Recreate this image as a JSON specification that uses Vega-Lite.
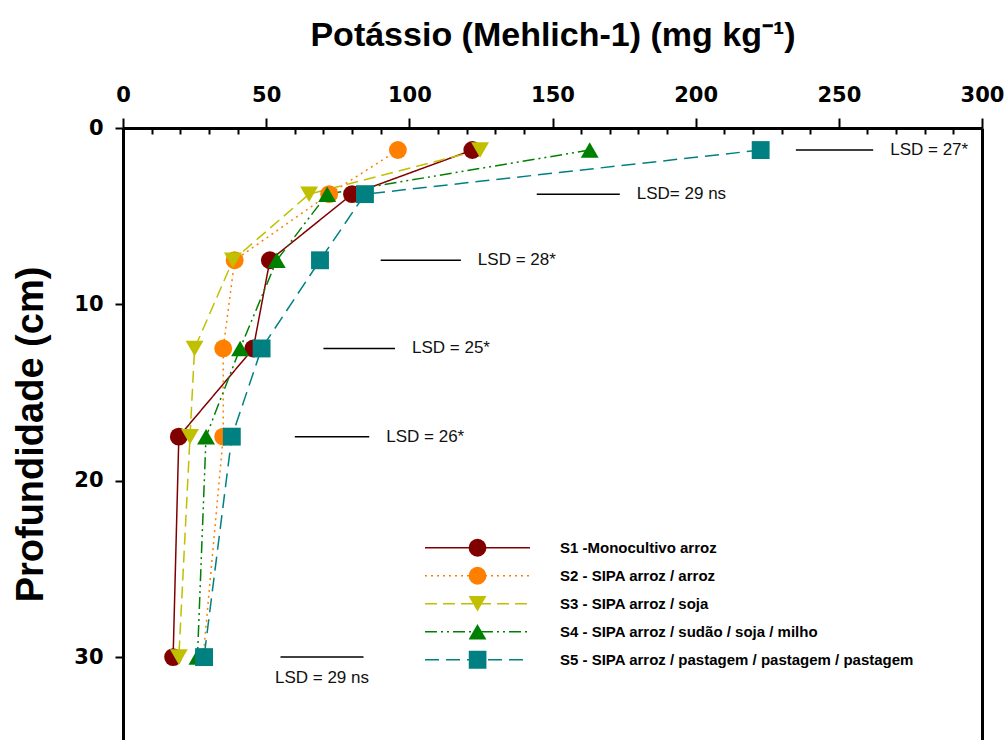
{
  "$schema": "https://vega.github.io/schema/vega-lite/v6.json",
  "width": 859,
  "height": 612,
  "autosize": "none",
  "padding": {"left": 123, "top": 128, "right": 26, "bottom": 0},
  "background": "white",
  "config": {"view": {"stroke": null}, "font": "Liberation Sans"},
  "datasets": {
    "perfis": [
      {"sistema": "S1 -Monocultivo arroz", "codigo": "S1", "prof": 1.25, "k": 122},
      {"sistema": "S1 -Monocultivo arroz", "codigo": "S1", "prof": 3.75, "k": 80},
      {"sistema": "S1 -Monocultivo arroz", "codigo": "S1", "prof": 7.5, "k": 51.3},
      {"sistema": "S1 -Monocultivo arroz", "codigo": "S1", "prof": 12.5, "k": 45.5},
      {"sistema": "S1 -Monocultivo arroz", "codigo": "S1", "prof": 17.5, "k": 19.5},
      {"sistema": "S1 -Monocultivo arroz", "codigo": "S1", "prof": 30, "k": 17.5},
      {"sistema": "S2 - SIPA arroz / arroz", "codigo": "S2", "prof": 1.25, "k": 96},
      {"sistema": "S2 - SIPA arroz / arroz", "codigo": "S2", "prof": 3.75, "k": 72},
      {"sistema": "S2 - SIPA arroz / arroz", "codigo": "S2", "prof": 7.5, "k": 39},
      {"sistema": "S2 - SIPA arroz / arroz", "codigo": "S2", "prof": 12.5, "k": 35},
      {"sistema": "S2 - SIPA arroz / arroz", "codigo": "S2", "prof": 17.5, "k": 35},
      {"sistema": "S2 - SIPA arroz / arroz", "codigo": "S2", "prof": 30, "k": 28},
      {"sistema": "S3 - SIPA arroz / soja", "codigo": "S3", "prof": 1.25, "k": 124.7},
      {"sistema": "S3 - SIPA arroz / soja", "codigo": "S3", "prof": 3.75, "k": 65},
      {"sistema": "S3 - SIPA arroz / soja", "codigo": "S3", "prof": 7.5, "k": 38.4},
      {"sistema": "S3 - SIPA arroz / soja", "codigo": "S3", "prof": 12.5, "k": 25},
      {"sistema": "S3 - SIPA arroz / soja", "codigo": "S3", "prof": 17.5, "k": 23.4},
      {"sistema": "S3 - SIPA arroz / soja", "codigo": "S3", "prof": 30, "k": 19.5},
      {"sistema": "S4 - SIPA arroz / sudão / soja / milho", "codigo": "S4", "prof": 1.25, "k": 163},
      {"sistema": "S4 - SIPA arroz / sudão / soja / milho", "codigo": "S4", "prof": 3.75, "k": 71.3},
      {"sistema": "S4 - SIPA arroz / sudão / soja / milho", "codigo": "S4", "prof": 7.5, "k": 53.7},
      {"sistema": "S4 - SIPA arroz / sudão / soja / milho", "codigo": "S4", "prof": 12.5, "k": 40.9},
      {"sistema": "S4 - SIPA arroz / sudão / soja / milho", "codigo": "S4", "prof": 17.5, "k": 29},
      {"sistema": "S4 - SIPA arroz / sudão / soja / milho", "codigo": "S4", "prof": 30, "k": 26},
      {"sistema": "S5 - SIPA arroz / pastagem / pastagem / pastagem", "codigo": "S5", "prof": 1.25, "k": 222.7},
      {"sistema": "S5 - SIPA arroz / pastagem / pastagem / pastagem", "codigo": "S5", "prof": 3.75, "k": 84.5},
      {"sistema": "S5 - SIPA arroz / pastagem / pastagem / pastagem", "codigo": "S5", "prof": 7.5, "k": 68.8},
      {"sistema": "S5 - SIPA arroz / pastagem / pastagem / pastagem", "codigo": "S5", "prof": 12.5, "k": 48.4},
      {"sistema": "S5 - SIPA arroz / pastagem / pastagem / pastagem", "codigo": "S5", "prof": 17.5, "k": 38},
      {"sistema": "S5 - SIPA arroz / pastagem / pastagem / pastagem", "codigo": "S5", "prof": 30, "k": 28.3}
    ],
    "lsd": [
      {"prof": 1.25, "ini": 235, "fim": 262, "rotulo": "LSD = 27*"},
      {"prof": 3.75, "ini": 144.5, "fim": 173.5, "rotulo": "LSD= 29 ns"},
      {"prof": 7.5, "ini": 90, "fim": 118, "rotulo": "LSD = 28*"},
      {"prof": 12.5, "ini": 70, "fim": 95, "rotulo": "LSD = 25*"},
      {"prof": 17.5, "ini": 60, "fim": 86, "rotulo": "LSD = 26*"},
      {"prof": 30, "ini": 55, "fim": 84, "rotulo": "LSD = 29 ns"}
    ]
  },
  "layer": [
    {
      "data": {"name": "perfis"},
      "mark": {"type": "line", "strokeWidth": 1.5},
      "encoding": {
        "x": {
          "field": "k", "type": "quantitative",
          "scale": {"domain": [0, 300], "nice": false, "zero": false},
          "axis": {
            "orient": "top",
            "values": [0, 50, 100, 150, 200, 250, 300],
            "tickSize": 10, "tickWidth": 2, "tickColor": "black",
            "domainColor": "black", "domainWidth": 3,
            "grid": false,
            "labelFont": "DejaVu Sans", "labelFontWeight": "bold", "labelFontSize": 21, "labelColor": "black",
            "labelPadding": 13, "labelFlush": false, "labelOverlap": false, "labelBound": false,
            "title": "Potássio (Mehlich-1) (mg kg⁻¹)",
            "titleFont": "Liberation Sans", "titleFontSize": 34, "titleFontWeight": "bold", "titleColor": "black",
            "titlePadding": 32
          }
        },
        "y": {
          "field": "prof", "type": "quantitative",
          "scale": {"domain": [0, 34.7], "nice": false, "zero": false, "reverse": true},
          "axis": {
            "orient": "left",
            "values": [0, 10, 20, 30],
            "tickSize": 8, "tickWidth": 2, "tickColor": "black",
            "domainColor": "black", "domainWidth": 3,
            "grid": false,
            "labelFont": "DejaVu Sans", "labelFontWeight": "bold", "labelFontSize": 21, "labelColor": "black",
            "labelPadding": 12, "labelFlush": false, "labelOverlap": false,
            "title": "Profundidade (cm)",
            "titleFont": "Liberation Sans", "titleFontSize": 38, "titleFontWeight": "bold", "titleColor": "black",
            "titlePadding": 23
          }
        },
        "stroke": {
          "field": "sistema", "type": "nominal",
          "scale": {"range": ["#800000", "#FF8000", "#C0C000", "#008000", "#008080"]},
          "legend": {
            "orient": "none", "legendX": 301, "legendY": 406, "padding": 0, "title": null,
            "symbolType": "stroke", "symbolSize": 11025, "symbolStrokeWidth": 1.5,
            "clipHeight": 27.5, "rowPadding": 0, "labelOffset": 29,
            "labelFont": "Liberation Sans", "labelFontWeight": "bold", "labelFontSize": 15, "labelColor": "black",
            "labelLimit": 600, "zindex": 1
          }
        },
        "strokeDash": {
          "field": "sistema", "type": "nominal",
          "scale": {"range": [[1, 0], [2, 4], [12, 6], [12, 4, 2, 4, 2, 4], [14, 7]]},
          "legend": {
            "orient": "none", "legendX": 301, "legendY": 406, "padding": 0, "title": null,
            "symbolType": "stroke", "symbolSize": 11025, "symbolStrokeWidth": 1.5,
            "clipHeight": 27.5, "rowPadding": 0, "labelOffset": 29,
            "labelFont": "Liberation Sans", "labelFontWeight": "bold", "labelFontSize": 15, "labelColor": "black",
            "labelLimit": 600, "zindex": 1
          }
        },
        "order": {"field": "prof", "type": "quantitative"}
      }
    },
    {
      "data": {"name": "perfis"},
      "mark": {"type": "point", "filled": true, "size": 320, "opacity": 1, "strokeWidth": 0},
      "encoding": {
        "x": {"field": "k", "type": "quantitative", "axis": null},
        "y": {"field": "prof", "type": "quantitative", "axis": null},
        "fill": {
          "field": "codigo", "type": "nominal",
          "scale": {"range": ["#800000", "#FF8000", "#C0C000", "#008000", "#008080"]},
          "legend": {
            "orient": "none", "legendX": 345.5, "legendY": 406, "padding": 0, "title": null,
            "symbolSize": 320, "symbolStrokeWidth": 0, "symbolOpacity": 1,
            "clipHeight": 27.5, "rowPadding": 0, "labelExpr": "''", "labelFontSize": 10, "zindex": 2
          }
        },
        "shape": {
          "field": "codigo", "type": "nominal",
          "scale": {"range": ["circle", "circle", "triangle-down", "triangle-up", "square"]},
          "legend": {
            "orient": "none", "legendX": 345.5, "legendY": 406, "padding": 0, "title": null,
            "symbolSize": 320, "symbolStrokeWidth": 0, "symbolOpacity": 1,
            "clipHeight": 27.5, "rowPadding": 0, "labelExpr": "''", "labelFontSize": 10, "zindex": 2
          }
        }
      }
    },
    {
      "data": {"name": "lsd"},
      "mark": {"type": "rule", "stroke": "black", "strokeWidth": 1.5},
      "encoding": {
        "x": {
          "field": "ini", "type": "quantitative",
          "axis": {
            "orient": "top",
            "values": [10, 20, 30, 40, 60, 70, 80, 90, 110, 120, 130, 140, 160, 170, 180, 190, 210, 220, 230, 240, 260, 270, 280, 290],
            "tickSize": -6, "tickWidth": 2, "tickColor": "black",
            "labels": false, "domain": false, "grid": false, "title": null
          }
        },
        "x2": {"field": "fim"},
        "y": {
          "field": "prof", "type": "quantitative",
          "axis": {"orient": "right", "labels": false, "ticks": false, "grid": false, "title": null, "domainColor": "black", "domainWidth": 3}
        }
      }
    },
    {
      "data": {"name": "lsd"},
      "transform": [{"filter": "datum.prof < 30"}],
      "mark": {"type": "text", "align": "left", "baseline": "middle", "dx": 17, "font": "Liberation Sans", "fontSize": 17, "color": "#111111"},
      "encoding": {
        "x": {"field": "fim", "type": "quantitative", "axis": null},
        "y": {"field": "prof", "type": "quantitative", "axis": null},
        "text": {"field": "rotulo"}
      }
    },
    {
      "data": {"name": "lsd"},
      "transform": [{"filter": "datum.prof >= 30"}],
      "mark": {"type": "text", "align": "center", "baseline": "middle", "dx": 41.5, "dy": 21, "font": "Liberation Sans", "fontSize": 17, "color": "#111111"},
      "encoding": {
        "x": {"field": "ini", "type": "quantitative", "axis": null},
        "y": {"field": "prof", "type": "quantitative", "axis": null},
        "text": {"field": "rotulo"}
      }
    }
  ],
  "resolve": {"axis": {"x": "independent", "y": "independent"}}
}
